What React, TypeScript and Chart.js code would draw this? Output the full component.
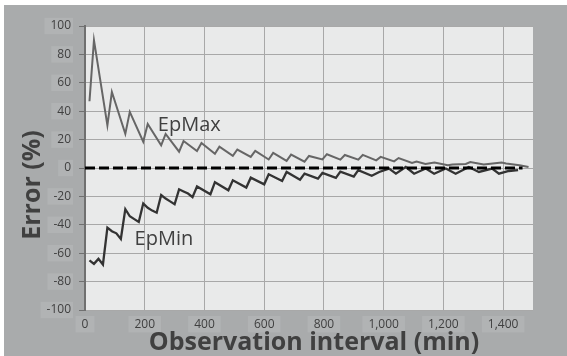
import React, { useEffect, useRef } from "react";
import { Chart, registerables } from "chart.js";

Chart.register(...registerables);

// ---- data ----
const epMaxX = [15, 30, 75, 90, 135, 150, 195, 210, 255, 270, 315, 330, 375, 390, 435, 450, 495, 510, 555, 570, 615, 630, 675, 690, 735, 750, 795, 810, 855, 870, 915, 930, 975, 990, 1035, 1050, 1095, 1110, 1140, 1170, 1215, 1230, 1275, 1290, 1335, 1350, 1395, 1410, 1455, 1485];
const epMaxY = [47, 90, 30, 53.5, 24, 39.5, 18.5, 31, 16, 24, 11.5, 19, 12, 17.6, 10, 15, 8.5, 13, 7.8, 12, 6, 10.6, 5, 9.4, 4.5, 8.5, 6, 9.7, 5.9, 9.2, 5.9, 9.2, 5.4, 7.8, 4.7, 7, 3.5, 4.5, 2.8, 3.8, 2, 2.5, 2.8, 4.2, 2.5, 2.8, 3.8, 3.2, 2, 0.7];

const epMinX = [15, 30, 45, 60, 75, 90, 105, 120, 135, 150, 165, 180, 195, 210, 225, 240, 255, 270, 285, 300, 315, 330, 345, 360, 375, 420, 435, 480, 495, 540, 555, 600, 615, 660, 675, 720, 735, 780, 795, 840, 855, 900, 915, 960, 985, 1018, 1041, 1074, 1102, 1141, 1169, 1208, 1241, 1285, 1319, 1363, 1386, 1419, 1450];
const epMinY = [-65, -67.5, -64, -68, -42, -44.5, -46, -50, -29, -34, -36, -38, -25, -28, -30, -31.5, -19, -21.5, -23.5, -25.5, -15, -16.5, -18, -20.5, -13, -18.5, -10, -15.7, -8.7, -13.8, -6.8, -11.5, -4.4, -9.2, -2.8, -8.2, -4, -7.5, -3.5, -7, -2.5, -6, -1.5, -5.5, -2.8, -0.4, -4, 0.7, -4, -0.4, -4, -0.4, -4, 0.7, -2.8, -0.4, -4, -2.1, -1.5];

const zeroX = [0, 1465];
const zeroY = [0, 0];

const xTickValues = [0, 200, 400, 600, 800, 1000, 1200, 1400];
const yTickValues = [-100, -80, -60, -40, -20, 0, 20, 40, 60, 80, 100];

const seriesLabels = ["EpMax", "EpMin"];
const xTitle = "Observation interval (min)";
const yTitle = "Error (%)";

const toPoints = (xs: number[], ys: number[]) => xs.map((x, i) => ({ x, y: ys[i] }));

const TEXT = "#404040";
const FONT = "'Open Sans', 'DejaVu Sans', sans-serif";

const decorPlugin = {
  id: "decor",
  beforeDraw(chart: any) {
    const { ctx, chartArea, width, height } = chart;
    ctx.save();
    ctx.fillStyle = "#a9abac";
    ctx.fillRect(0, 0, width, height);
    ctx.fillStyle = "#e9eaea";
    ctx.fillRect(chartArea.left, chartArea.top, chartArea.right - chartArea.left, chartArea.bottom - chartArea.top);
    ctx.restore();
  },
  afterDraw(chart: any) {
    const { ctx, scales } = chart;
    const xs = scales.x;
    const ys = scales.y;
    ctx.save();
    ctx.fillStyle = TEXT;
    // series labels
    ctx.font = `20px ${FONT}`;
    ctx.textAlign = "left";
    ctx.textBaseline = "middle";
    ctx.fillText(seriesLabels[0], xs.getPixelForValue(244), ys.getPixelForValue(30));
    ctx.fillText(seriesLabels[1], xs.getPixelForValue(166), ys.getPixelForValue(-50));
    // axis titles
    ctx.font = `bold 25px ${FONT}`;
    ctx.textAlign = "center";
    ctx.textBaseline = "alphabetic";
    ctx.fillText(xTitle, 310, 345);
    ctx.translate(36, 180);
    ctx.rotate(-Math.PI / 2);
    ctx.fillText(yTitle, 0, 0);
    ctx.restore();
  },
};

export default function App() {
  const ref = useRef<HTMLCanvasElement | null>(null);
  useEffect(() => {
    if (!ref.current) return;
    const chart = new Chart(ref.current, {
      type: "line",
      data: {
        datasets: [
          {
            label: "zero",
            data: toPoints(zeroX, zeroY),
            borderColor: "#000000",
            borderWidth: 3,
            borderDash: [10, 4],
            pointRadius: 0,
          },
          {
            label: seriesLabels[0],
            data: toPoints(epMaxX, epMaxY),
            borderColor: "#666666",
            borderWidth: 2,
            pointRadius: 0,
            tension: 0,
          },
          {
            label: seriesLabels[1],
            data: toPoints(epMinX, epMinY),
            borderColor: "#333333",
            borderWidth: 2.3,
            pointRadius: 0,
            tension: 0,
          },
        ],
      },
      options: {
        animation: false,
        responsive: false,
        devicePixelRatio: 1,
        layout: { padding: { left: 0, top: 21, right: 34, bottom: 0 } },
        plugins: { legend: { display: false }, tooltip: { enabled: false } },
        scales: {
          x: {
            type: "linear",
            min: 0,
            max: 1500,
            afterFit: (s: any) => { s.height = 46; },
            afterBuildTicks: (s: any) => { s.ticks = xTickValues.map((v) => ({ value: v })); },
            grid: { color: "#a8a8a8", lineWidth: 1, drawTicks: false },
            border: { display: false },
            ticks: {
              padding: 7,
              color: TEXT,
              font: { family: FONT, size: 12 },
              callback: (v: any) => Number(v).toLocaleString("en-US"),
              showLabelBackdrop: true,
              backdropColor: "#b1b3b4",
              backdropPadding: { left: 6, right: 6, top: 1, bottom: 1 },
            },
          },
          y: {
            min: -100,
            max: 100,
            afterFit: (s: any) => { s.width = 81; },
            afterBuildTicks: (s: any) => { s.ticks = yTickValues.map((v) => ({ value: v })); },
            grid: { color: "#a8a8a8", lineWidth: 1, drawTicks: true, tickLength: 6, tickColor: "#707070" },
            border: { display: true, color: "#707070", width: 2 },
            ticks: {
              padding: 8,
              color: TEXT,
              font: { family: FONT, size: 12 },
              showLabelBackdrop: true,
              backdropColor: "#b1b3b4",
              backdropPadding: { left: 6, right: 2, top: 1, bottom: 1 },
            },
          },
        },
      },
      plugins: [decorPlugin],
    } as any);
    return () => chart.destroy();
  }, []);
  return (
    <div style={{ position: "absolute", left: 4, top: 5, width: 563, height: 351 }}>
      <canvas ref={ref} width={563} height={351} style={{ display: "block", width: 563, height: 351 }} />
    </div>
  );
}
